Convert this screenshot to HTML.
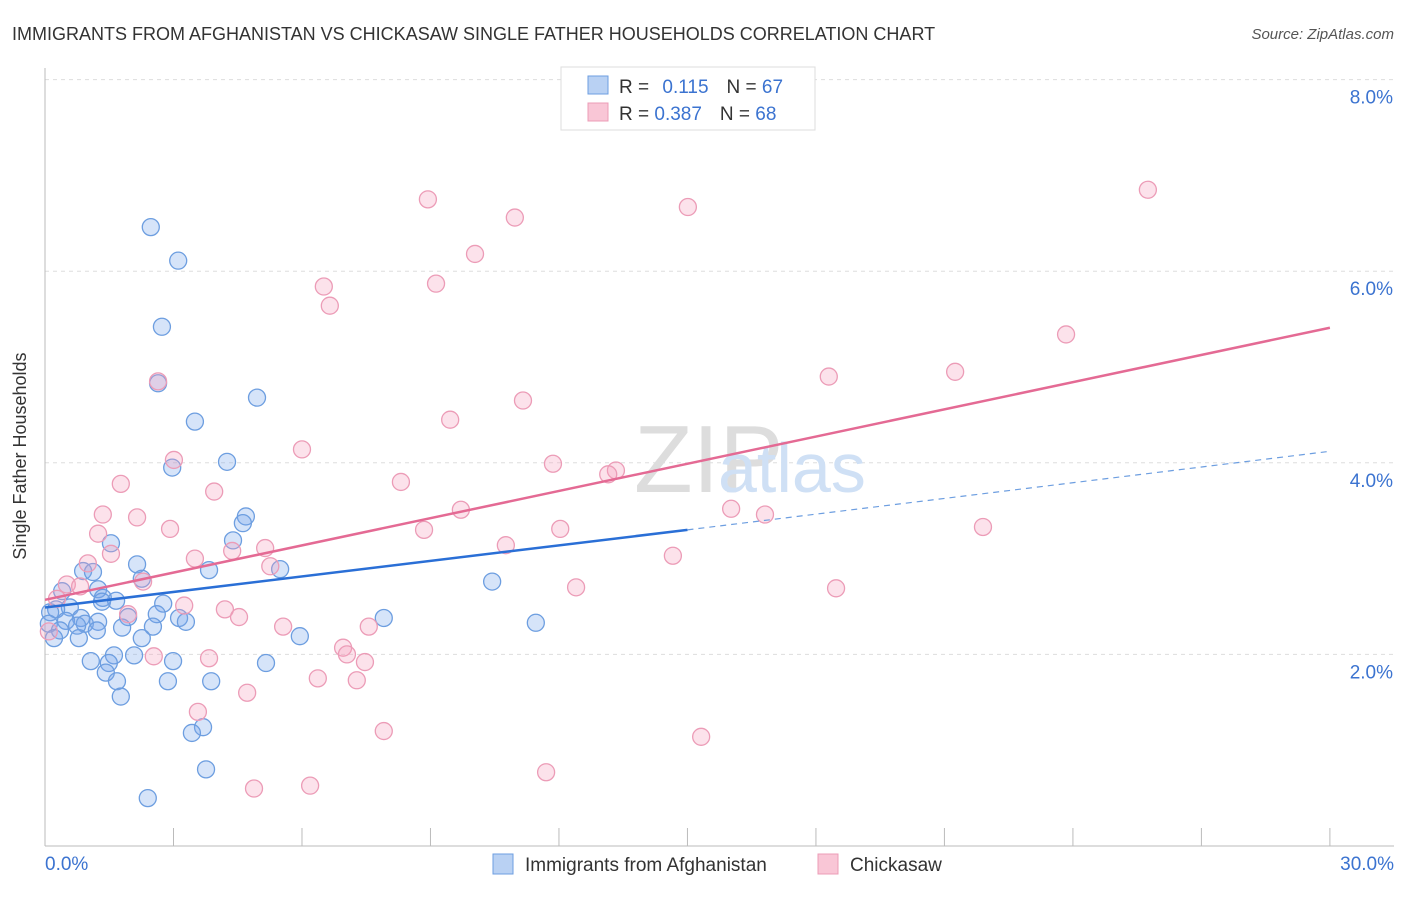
<!DOCTYPE html>
<html><head><meta charset="utf-8"><style>
body{margin:0;background:#fff;font-family:"Liberation Sans",sans-serif}
svg text{font-family:"Liberation Sans",sans-serif}
</style></head><body>
<svg id="c" width="1406" height="892">
<text x="12" y="40" font-size="18" fill="#333">IMMIGRANTS FROM AFGHANISTAN VS CHICKASAW SINGLE FATHER HOUSEHOLDS CORRELATION CHART</text>
<text x="1394" y="39" font-size="15" fill="#555" text-anchor="end" font-style="italic">Source: ZipAtlas.com</text>
<text x="26" y="456" font-size="18" fill="#333" text-anchor="middle" transform="rotate(-90 26 456)">Single Father Households</text>
<g id="grid"></g>
<text x="634" y="492" font-size="96" fill="#ddd" font-family="Liberation Serif">ZIP</text>
<text x="718" y="492" font-size="70" fill="#cfe0f5">atlas</text>
<g id="blue"></g>
<g id="pink"></g>
<g id="lines"></g>
<g>
<rect x="561" y="67" width="254" height="63" fill="#fff" stroke="#ddd"/>
<rect x="588" y="76" width="20" height="18" fill="#b9d1f3" stroke="#6d9ee0"/>
<rect x="588" y="103" width="20" height="18" fill="#f9c6d6" stroke="#ec9cb7"/>
<text x="619" y="93" font-size="19" fill="#333">R = <tspan fill="#3b73d0" dx="8">0.115</tspan><tspan dx="18">N = </tspan><tspan fill="#3b73d0">67</tspan></text>
<text x="619" y="120" font-size="19" fill="#333">R = <tspan fill="#3b73d0">0.387</tspan><tspan dx="18">N = </tspan><tspan fill="#3b73d0">68</tspan></text>
</g>
<g>
<rect x="493" y="854" width="20" height="20" fill="#b9d1f3" stroke="#6d9ee0"/>
<text x="525" y="871" font-size="19" fill="#333">Immigrants from Afghanistan</text>
<rect x="818" y="854" width="20" height="20" fill="#f9c6d6" stroke="#ec9cb7"/>
<text x="850" y="871" font-size="19" fill="#333">Chickasaw</text>
</g>
</svg>
<script>
const blueX=[2.47,3.11,2.73,2.64,3.50,4.95,2.97,4.25,4.69,4.62,4.39,1.54,2.15,3.83,5.49,2.26,0.89,1.12,0.40,1.24,1.35,1.66,1.33,2.76,0.58,0.26,0.12,0.84,2.61,3.13,1.94,3.29,0.49,0.93,1.24,0.09,0.35,0.75,1.80,2.52,1.21,7.91,10.44,11.46,5.95,0.79,0.21,2.26,1.61,2.08,1.07,2.99,1.49,5.16,1.42,1.68,2.87,3.88,1.77,3.69,3.43,3.76,2.40];
const blueY=[6.46,6.11,5.42,4.83,4.43,4.68,3.95,4.01,3.44,3.37,3.19,3.16,2.94,2.88,2.89,2.79,2.87,2.86,2.66,2.68,2.59,2.56,2.55,2.53,2.49,2.47,2.44,2.38,2.42,2.38,2.39,2.34,2.35,2.32,2.34,2.32,2.25,2.30,2.28,2.29,2.25,2.38,2.76,2.33,2.19,2.17,2.17,2.17,1.99,1.99,1.93,1.93,1.91,1.91,1.81,1.72,1.72,1.72,1.56,1.24,1.18,0.80,0.50];
const pinkX=[25.75,8.94,15.01,10.97,10.04,9.13,6.51,6.65,23.84,2.64,18.30,21.25,11.16,9.46,6.00,3.01,11.86,13.33,13.15,3.95,1.77,8.31,16.02,16.81,9.71,1.35,2.15,21.90,12.03,2.92,8.85,1.24,10.76,5.14,4.37,1.54,14.66,3.50,1.00,5.26,2.29,0.51,0.82,18.47,12.40,0.28,3.25,4.20,1.94,4.53,5.56,7.56,0.09,6.96,7.05,2.54,3.83,7.47,6.37,7.28,4.72,3.57,7.91,15.32,11.70,4.88,6.19];
const pinkY=[6.85,6.75,6.67,6.56,6.18,5.87,5.84,5.64,5.34,4.85,4.90,4.95,4.65,4.45,4.14,4.03,3.99,3.92,3.88,3.70,3.78,3.80,3.52,3.46,3.51,3.46,3.43,3.33,3.31,3.31,3.30,3.26,3.14,3.11,3.08,3.05,3.03,3.00,2.95,2.92,2.76,2.73,2.71,2.69,2.70,2.58,2.51,2.47,2.42,2.39,2.29,2.29,2.24,2.07,2.00,1.98,1.96,1.92,1.75,1.73,1.60,1.40,1.20,1.14,0.77,0.60,0.63];
const blueTrend=[2.49,3.30,4.12];   // at x = 0, 15, 30
const pinkTrend=[2.57,5.41];        // at x = 0, 30
const yTicks=[2,4,6,8];
const xTicks=[0,3,6,9,12,15,18,21,24,27,30];
const NS="http://www.w3.org/2000/svg";
const sx=v=>45+v*42.83, sy=v=>846-v*95.8;
function mk(tag,attrs,parent){const e=document.createElementNS(NS,tag);for(const k in attrs)e.setAttribute(k,attrs[k]);parent.appendChild(e);return e;}
const grid=document.getElementById('grid');
yTicks.forEach(t=>{
 const l=mk('line',{x1:45,x2:1394,y1:sy(t),y2:sy(t),stroke:'#ddd','stroke-dasharray':'4,4'},grid);
 
 
 const tx=mk('text',{x:1393,y:sy(t)+24,'font-size':19,fill:'#3b73d0','text-anchor':'end'},grid);
 tx.textContent=t.toFixed(1)+'%';
 
 
});
mk('line',{x1:45,x2:1394,y1:846,y2:846,stroke:'#bbb'},grid);
mk('line',{x1:45,x2:45,y1:68,y2:846,stroke:'#bbb'},grid);
xTicks.forEach(t=>{
 const l=mk('line',{x1:sx(t),x2:sx(t),y1:828,y2:846,stroke:'#bbb'},grid);
 
 
});
[[0,'0.0%','start',45],[30,'30.0%','end',1394]].forEach(a=>{
 const tx=mk('text',{x:a[3],y:870,'font-size':19,fill:'#3b73d0','text-anchor':a[2]},grid);
 tx.textContent=a[1];
 
 
});
function dots(xs,ys,g,fill,stroke,name){
 xs.forEach((x,i)=>{
  const c=mk('circle',{cx:sx(x),cy:sy(ys[i]),r:8.5,fill:fill,stroke:stroke,'stroke-width':1.3},g);
  
  
 });
}
dots(blueX,blueY,document.getElementById('blue'),'rgba(120,165,235,0.3)','#6d9ee0','point-afghanistan');
dots(pinkX,pinkY,document.getElementById('pink'),'rgba(245,160,190,0.3)','#ec9cb7','point-chickasaw');
const lg=document.getElementById('lines');
const b1=mk('line',{x1:sx(0),y1:sy(blueTrend[0]),x2:sx(15),y2:sy(blueTrend[1]),stroke:'#2a6fd6','stroke-width':2.5},lg);


const b2=mk('line',{x1:sx(15),y1:sy(blueTrend[1]),x2:sx(30),y2:sy(blueTrend[2]),stroke:'#6d9ee0','stroke-width':1.2,'stroke-dasharray':'6,5'},lg);


const p1=mk('line',{x1:sx(0),y1:sy(pinkTrend[0]),x2:sx(30),y2:sy(pinkTrend[1]),stroke:'#e46a94','stroke-width':2.5},lg);


</script>
</body></html>
